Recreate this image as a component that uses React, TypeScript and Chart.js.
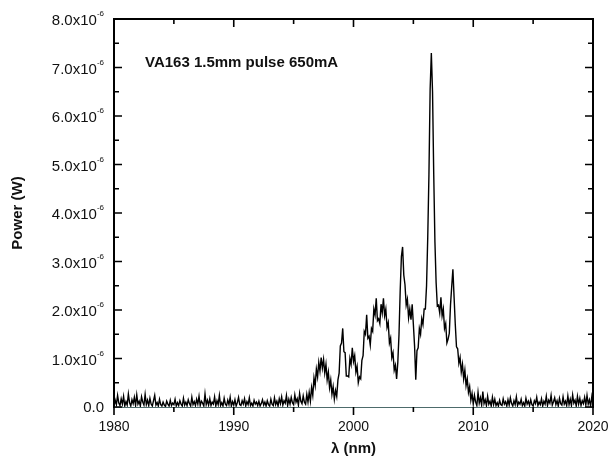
import React, { useEffect, useRef } from "react";
import { Chart, registerables } from "chart.js";

Chart.register(...registerables);

// Wavelength sampling grid (nm)
const WL_START = 1980;
const WL_STEP = 0.1;

// Measured power in µW (x10^-6 W), one row per nm, 0.1 nm steps
const POWER_UW: number[] = [
  // 1980
  0.02, 0.14, 0.05, 0.24, 0.08, 0.03, 0.17, 0.06, 0.22, 0.02,
  // 1981
  0.11, 0.04, 0.27, 0.09, 0.02, 0.15, 0.07, 0.2, 0.03, 0.25,
  // 1982
  0.06, 0.12, 0.02, 0.21, 0.1, 0.04, 0.26, 0.05, 0.14, 0.03,
  // 1983
  0.18, 0.06, 0.02, 0.13, 0.24, 0.04, 0.09, 0.02, 0.16, 0.05,
  // 1984
  0.02, 0.1, 0.04, 0.01, 0.12, 0.06, 0.02, 0.14, 0.03, 0.08,
  // 1985
  0.05, 0.16, 0.02, 0.09, 0.03, 0.13, 0.06, 0.02, 0.18, 0.04,
  // 1986
  0.1, 0.03, 0.15, 0.07, 0.02, 0.2, 0.05, 0.11, 0.03, 0.16,
  // 1987
  0.06, 0.22, 0.03, 0.12, 0.08, 0.02, 0.27, 0.05, 0.14, 0.04,
  // 1988
  0.17, 0.03, 0.1, 0.06, 0.21, 0.02, 0.13, 0.05, 0.24, 0.03,
  // 1989
  0.09, 0.02, 0.18, 0.06, 0.03, 0.14, 0.05, 0.2, 0.02, 0.11,
  // 1990
  0.04, 0.15, 0.02, 0.09, 0.2, 0.05, 0.03, 0.13, 0.06, 0.17,
  // 1991
  0.02, 0.11, 0.05, 0.19, 0.03, 0.08, 0.02, 0.14, 0.06, 0.1,
  // 1992
  0.03, 0.12, 0.02, 0.07, 0.15, 0.04, 0.1, 0.02, 0.13, 0.05,
  // 1993
  0.02, 0.16, 0.06, 0.03, 0.19, 0.05, 0.12, 0.02, 0.17, 0.07,
  // 1994
  0.21, 0.04, 0.13, 0.08, 0.24, 0.03, 0.16, 0.06, 0.2, 0.09,
  // 1995
  0.05, 0.25, 0.1, 0.17, 0.04, 0.28, 0.12, 0.07, 0.23, 0.1,
  // 1996
  0.06, 0.26, 0.1, 0.3, 0.12, 0.4, 0.24, 0.6, 0.44, 0.78,
  // 1997
  0.62, 0.92, 0.74, 1.02, 0.8, 0.98, 0.7, 0.88, 0.56, 0.72,
  // 1998
  0.4, 0.56, 0.26, 0.42, 0.16, 0.34, 0.22, 0.56, 0.7, 1.26,
  // 1999
  1.32, 1.62, 1.14, 1.12, 0.64, 0.64, 0.62, 1.0, 0.88, 1.22,
  // 2000
  0.94, 1.06, 0.72, 0.84, 0.5, 0.62, 0.58, 0.96, 1.06, 1.56,
  // 2001
  1.5, 1.9, 1.42, 1.46, 1.28, 1.62, 1.56, 2.02, 1.9, 2.24,
  // 2002
  1.78, 1.82, 1.72, 2.12, 1.94, 2.24, 1.88, 2.02, 1.64, 1.74,
  // 2003
  1.32, 1.42, 1.02, 1.12, 0.76, 0.86, 0.58, 0.92, 1.5, 2.4,
  // 2004
  3.1, 3.3, 2.72, 2.52, 2.1, 2.22, 1.84, 2.02, 1.8, 2.12,
  // 2005
  1.7, 1.26, 0.56, 1.16, 1.22, 1.62, 1.5, 1.82, 1.7, 2.02,
  // 2006
  2.02, 2.5, 3.5, 4.8, 6.55, 7.3, 6.5, 4.8, 3.4, 2.56,
  // 2007
  2.08, 2.1, 1.94, 2.26, 1.88, 2.02, 1.62, 1.72, 1.32, 1.4,
  // 2008
  1.52, 2.1, 2.48, 2.84, 2.26, 1.7, 1.24, 1.2, 0.9, 1.02,
  // 2009
  0.72, 0.88, 0.58, 0.76, 0.44, 0.58, 0.3, 0.42, 0.14, 0.28,
  // 2010
  0.06, 0.24, 0.1, 0.03, 0.3, 0.08, 0.19, 0.04, 0.32, 0.07,
  // 2011
  0.15, 0.03, 0.22, 0.06, 0.12, 0.02, 0.2, 0.05, 0.16, 0.03,
  // 2012
  0.09, 0.02, 0.14, 0.05, 0.03, 0.17, 0.06, 0.11, 0.02, 0.15,
  // 2013
  0.04, 0.19, 0.07, 0.02, 0.13, 0.05, 0.21, 0.03, 0.1, 0.06,
  // 2014
  0.16, 0.03, 0.09, 0.02, 0.18, 0.06, 0.12, 0.03, 0.15, 0.05,
  // 2015
  0.02, 0.13, 0.07, 0.2, 0.03, 0.1, 0.05, 0.17, 0.02, 0.12,
  // 2016
  0.06, 0.22, 0.03, 0.14, 0.08, 0.24, 0.04, 0.11, 0.19, 0.05,
  // 2017
  0.13, 0.02, 0.18, 0.07, 0.04, 0.21, 0.06, 0.12, 0.03, 0.23,
  // 2018
  0.05, 0.16, 0.03, 0.25, 0.08, 0.14, 0.02, 0.22, 0.06, 0.18,
  // 2019
  0.03, 0.13, 0.07, 0.2, 0.04, 0.24, 0.06, 0.15, 0.02, 0.21,
  // 2020
  0.05,
];

const X_MIN = 1980;
const X_MAX = 2020;
const X_MAJOR = [1980, 1990, 2000, 2010, 2020];
const X_MINOR = [1985, 1995, 2005, 2015];
const Y_MAJOR_UW = [0, 1, 2, 3, 4, 5, 6, 7, 8];
const Y_MINOR_UW = [0.5, 1.5, 2.5, 3.5, 4.5, 5.5, 6.5, 7.5];
const Y_LABELS = ["0.0", "1.0x10", "2.0x10", "3.0x10", "4.0x10", "5.0x10", "6.0x10", "7.0x10", "8.0x10"];
const Y_EXP = "-6";
const ANNOTATION = "VA163 1.5mm pulse 650mA";
const X_TITLE = "λ (nm)";
const Y_TITLE = "Power (W)";

const FONT = '"Liberation Sans", Arial, Helvetica, sans-serif';

const framePlugin = {
  id: "frameAndTicks",
  beforeDatasetsDraw(chart: any) {
    const { ctx, chartArea } = chart;
    const { left, right, bottom } = chartArea;
    ctx.save();
    ctx.strokeStyle = "#4d6b6b";
    ctx.lineWidth = 1.2;
    ctx.beginPath();
    ctx.moveTo(left, bottom + 0.5);
    ctx.lineTo(right, bottom + 0.5);
    ctx.stroke();
    ctx.restore();
  },
  afterDraw(chart: any) {
    const { ctx, chartArea, scales } = chart;
    const { left, right, top, bottom } = chartArea;
    const xs = scales.x;
    const ys = scales.y;
    ctx.save();
    ctx.strokeStyle = "#000";
    ctx.lineWidth = 2;
    ctx.beginPath();
    ctx.moveTo(left, bottom + 1);
    ctx.lineTo(left, top);
    ctx.lineTo(right, top);
    ctx.lineTo(right, bottom + 1);
    ctx.stroke();

    ctx.lineWidth = 1.6;
    const xt = (v: number, len: number) => {
      const px = xs.getPixelForValue(v);
      ctx.beginPath();
      ctx.moveTo(px, bottom);
      ctx.lineTo(px, bottom + len);
      ctx.moveTo(px, top);
      ctx.lineTo(px, top + len);
      ctx.stroke();
    };
    X_MAJOR.forEach((v) => xt(v, 8));
    X_MINOR.forEach((v) => xt(v, 5));
    const yt = (v: number, len: number) => {
      const py = ys.getPixelForValue(v * 1e-6);
      ctx.beginPath();
      ctx.moveTo(left, py);
      ctx.lineTo(left + len, py);
      ctx.moveTo(right, py);
      ctx.lineTo(right - len, py);
      ctx.stroke();
    };
    Y_MAJOR_UW.forEach((v) => yt(v, 8));
    Y_MINOR_UW.forEach((v) => yt(v, 5));

    // Y tick labels with superscript exponent
    ctx.fillStyle = "#111";
    const rightEdge = left - 10;
    Y_MAJOR_UW.forEach((v, i) => {
      const py = ys.getPixelForValue(v * 1e-6);
      const label = Y_LABELS[i];
      ctx.textBaseline = "middle";
      if (v === 0) {
        ctx.font = `15px ${FONT}`;
        ctx.textAlign = "right";
        ctx.fillText(label, rightEdge, py + 1);
        return;
      }
      ctx.font = `8px ${FONT}`;
      const supW = ctx.measureText(Y_EXP).width;
      ctx.textAlign = "left";
      ctx.fillText(Y_EXP, rightEdge - supW, py - 5);
      ctx.font = `15px ${FONT}`;
      ctx.textAlign = "right";
      ctx.fillText(label, rightEdge - supW, py + 2);
    });

    // annotation
    ctx.font = `bold 15px ${FONT}`;
    ctx.textAlign = "left";
    ctx.textBaseline = "middle";
    ctx.fillText(ANNOTATION, left + 31, top + 44);
    ctx.restore();
  },
};

export default function App() {
  const canvasRef = useRef<HTMLCanvasElement | null>(null);

  useEffect(() => {
    const canvas = canvasRef.current;
    if (!canvas) return;
    const points = POWER_UW.map((p, i) => ({
      x: WL_START + i * WL_STEP,
      y: p * 1e-6,
    }));
    const chart = new Chart(canvas, {
      type: "line",
      data: {
        datasets: [
          {
            data: points,
            borderColor: "#000",
            borderWidth: 1.4,
            pointRadius: 0,
            tension: 0,
            fill: false,
          },
        ],
      },
      options: {
        responsive: false,
        animation: false,
        layout: { padding: { top: 19, right: 19, left: 0, bottom: 0 } },
        plugins: {
          legend: { display: false },
          tooltip: { enabled: false },
        },
        scales: {
          x: {
            type: "linear",
            min: X_MIN,
            max: X_MAX,
            grid: { display: false, drawTicks: false },
            border: { display: false },
            afterBuildTicks: (s: any) => {
              s.ticks = X_MAJOR.map((v) => ({ value: v }));
            },
            ticks: {
              color: "#111",
              font: { size: 14, family: FONT },
              padding: 12,
              maxRotation: 0,
              autoSkip: false,
              callback: (v: any) => String(v),
            },
            title: {
              display: true,
              text: X_TITLE,
              color: "#111",
              font: { size: 15, weight: "bold", family: FONT },
              padding: { top: 0, bottom: 11 },
            },
            afterFit: (s: any) => {
              s.height = 62;
              s.paddingLeft = 0;
              s.paddingRight = 0;
            },
          },
          y: {
            type: "linear",
            min: 0,
            max: 8e-6,
            grid: { display: false, drawTicks: false },
            border: { display: false },
            ticks: { display: false, stepSize: 1e-6 },
            title: {
              display: true,
              text: Y_TITLE,
              color: "#111",
              font: { size: 15, weight: "bold", family: FONT },
              padding: { top: 9, bottom: 0 },
            },
            afterFit: (s: any) => {
              s.width = 114;
            },
          },
        },
      },
      plugins: [framePlugin],
    } as any);
    return () => chart.destroy();
  }, []);

  return (
    <div style={{ position: "absolute", left: 0, top: 0, width: 612, height: 469, background: "#fff" }}>
      <canvas ref={canvasRef} width={612} height={469} style={{ display: "block" }} />
    </div>
  );
}
